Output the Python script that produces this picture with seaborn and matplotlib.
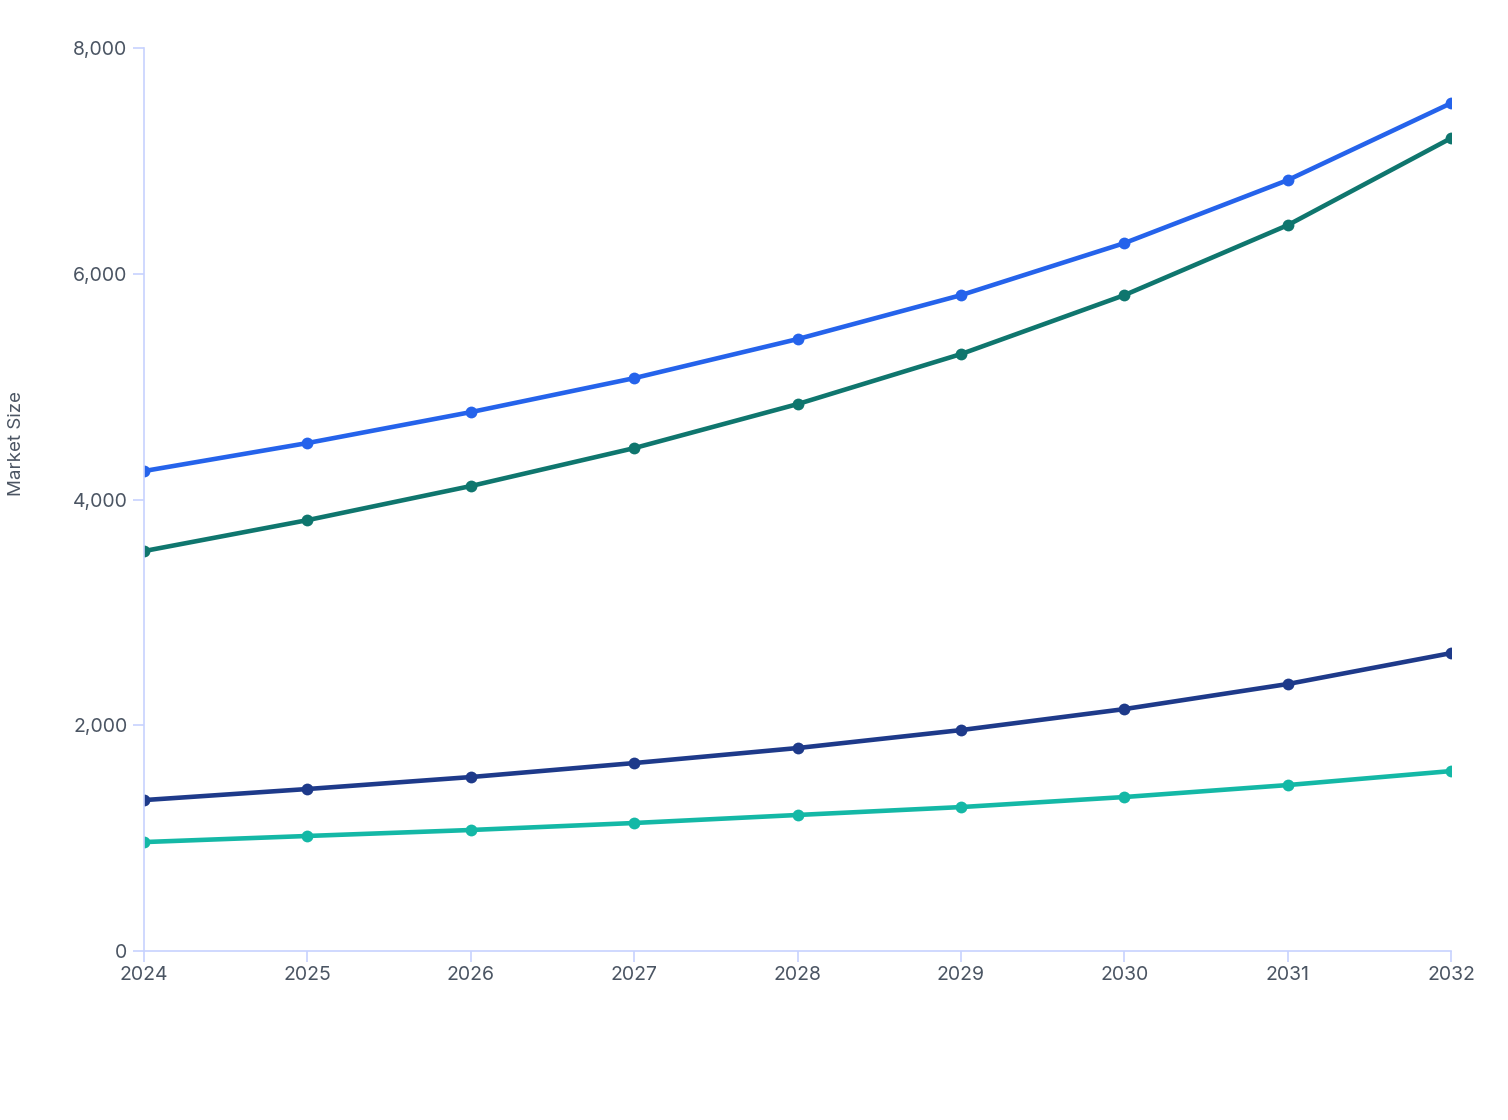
import matplotlib
matplotlib.use("Agg")
import matplotlib.pyplot as plt
import seaborn as sns
import pandas as pd

years = [2024, 2025, 2026, 2027, 2028, 2029, 2030, 2031, 2032]
series_names = ["Series 1", "Series 2", "Series 3", "Series 4"]
series_1 = [4252, 4500, 4774, 5075, 5421, 5810, 6271, 6829, 7511]
series_2 = [3543, 3817, 4119, 4455, 4845, 5288, 5810, 6430, 7201]
series_3 = [1337, 1435, 1541, 1665, 1798, 1957, 2143, 2365, 2639]
series_4 = [965, 1019, 1072, 1134, 1205, 1275, 1364, 1470, 1594]
colors = ["#2563eb", "#0f766e", "#1e3a8a", "#14b8a6"]

rows = []
for name, vals in zip(series_names, [series_1, series_2, series_3, series_4]):
    for y, v in zip(years, vals):
        rows.append({"year": y, "value": v, "series": name})
df = pd.DataFrame(rows)

sns.set_style("white")
plt.rcParams["font.family"] = ["Inter", "DejaVu Sans"]

fig = plt.figure(figsize=(15.08, 11.2), dpi=100)
ax = fig.add_axes([144 / 1508, 169 / 1120, 1307 / 1508, 903 / 1120])

sns.lineplot(data=df, x="year", y="value", hue="series", palette=colors,
             hue_order=series_names, linewidth=3.3, marker="o", markersize=8.5,
             markeredgewidth=0, legend=False, ax=ax)

ax.set_xlim(2024, 2032)
ax.set_ylim(0, 8000)
ax.set_xticks(years)
ax.set_yticks([0, 2000, 4000, 6000, 8000])
ax.yaxis.set_major_formatter(matplotlib.ticker.FuncFormatter(lambda v, p: f"{int(v):,}"))

axis_color = "#c7d2fe"
text_color = "#4b5563"
for side in ["top", "right"]:
    ax.spines[side].set_visible(False)
for side in ["left", "bottom"]:
    ax.spines[side].set_color(axis_color)
    ax.spines[side].set_linewidth(1.2)
ax.tick_params(axis="both", left=True, bottom=True, length=8, width=1.2,
               color=axis_color, labelcolor=text_color, labelsize=14,
               direction="out")
ax.tick_params(axis="x", pad=3)
ax.tick_params(axis="y", pad=4)
for lbl in ax.get_xticklabels() + ax.get_yticklabels():
    lbl.set_clip_on(False)

ax.set_xlabel("")
ax.set_ylabel("Market Size", color=text_color, fontsize=13.5)
ax.yaxis.set_label_coords((25 - 144) / 1307, (951 - 443) / 903)

fig.savefig("out.png", dpi=100)
